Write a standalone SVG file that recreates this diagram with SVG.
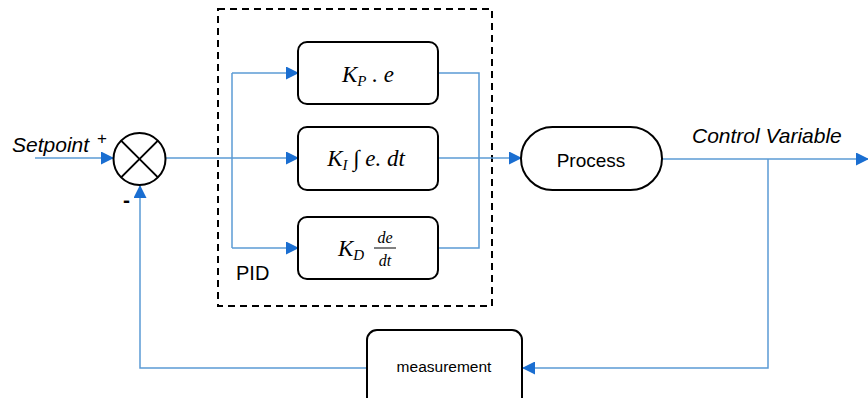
<svg xmlns="http://www.w3.org/2000/svg" width="868" height="398" viewBox="0 0 868 398">
<style>
.ln{fill:none;stroke:#5B9BD5;stroke-width:1.5}
.box{fill:#fff;stroke:#000;stroke-width:2}
.sans{font-family:"Liberation Sans",Arial,sans-serif;fill:#000}
.math{font-family:"Liberation Serif","DejaVu Serif",serif;font-style:italic;fill:#000}
</style>
<defs>
<marker id="ah" markerUnits="userSpaceOnUse" markerWidth="13" markerHeight="13" viewBox="0 0 13 13" refX="12" refY="6.5" orient="auto">
<path d="M0,0 L13,6.5 L0,13 Z" fill="#1A6ED1"/>
</marker>
</defs>
<rect x="0" y="0" width="868" height="398" fill="#fff"/>
<g id="pid-frame">
<rect x="218" y="9" width="274" height="297" fill="none" stroke="#000" stroke-width="2" stroke-dasharray="7,5"/>
<text class="sans" x="236" y="280" font-size="20">PID</text>
</g>
<g id="connectors">
<line class="ln" x1="35" y1="158" x2="113" y2="158" marker-end="url(#ah)"/>
<polyline class="ln" points="367,368 140,368 140,186" marker-end="url(#ah)"/>
<line class="ln" x1="166" y1="158" x2="298" y2="158" marker-end="url(#ah)"/>
<line class="ln" x1="232" y1="73" x2="232" y2="248"/>
<line class="ln" x1="232" y1="73" x2="298" y2="73" marker-end="url(#ah)"/>
<line class="ln" x1="232" y1="248" x2="298" y2="248" marker-end="url(#ah)"/>
<polyline class="ln" points="438,73 479,73 479,248 438,248"/>
<line class="ln" x1="438" y1="158" x2="521" y2="158" marker-end="url(#ah)"/>
<line class="ln" x1="662" y1="159" x2="868" y2="159" marker-end="url(#ah)"/>
<polyline class="ln" points="768,159 768,368 523,368" marker-end="url(#ah)"/>
</g>
<g id="sum">
<circle cx="139.5" cy="159" r="26" fill="#fff" stroke="#000" stroke-width="2"/>
<line x1="121.1" y1="140.6" x2="157.9" y2="177.4" stroke="#000" stroke-width="2"/>
<line x1="157.9" y1="140.6" x2="121.1" y2="177.4" stroke="#000" stroke-width="2"/>
<text class="sans" x="97" y="144" font-size="17">+</text>
<text class="sans" x="123" y="207" font-size="21" font-weight="bold">-</text>
</g>
<g id="setpoint">
<text class="sans" x="12" y="152" font-size="21" font-style="italic">Setpoint</text>
</g>
<g id="kp">
<rect class="box" x="298" y="42" width="140" height="62" rx="9"/>
<text class="math" x="368" y="82" font-size="23" text-anchor="middle">K<tspan font-size="15" dy="4">P</tspan><tspan dy="-4"> . e</tspan></text>
</g>
<g id="ki">
<rect class="box" x="298" y="127" width="140" height="63" rx="9"/>
<text class="math" x="366" y="166" font-size="23" text-anchor="middle">K<tspan font-size="15" dy="4">I</tspan><tspan dy="-4">  ∫ e. dt</tspan></text>
</g>
<g id="kd">
<rect class="box" x="298" y="217" width="140" height="62" rx="9"/>
<text class="math" x="338" y="256" font-size="23">K<tspan font-size="15" dy="4">D</tspan></text>
<text class="math" x="385" y="243" font-size="16" text-anchor="middle">de</text>
<line x1="374" y1="248" x2="396" y2="248" stroke="#000" stroke-width="1"/>
<text class="math" x="385" y="266" font-size="16" text-anchor="middle">dt</text>
</g>
<g id="process">
<rect class="box" x="521" y="127" width="141" height="63" rx="31.5"/>
<text class="sans" x="591" y="167" font-size="19" text-anchor="middle">Process</text>
</g>
<g id="cv">
<text class="sans" x="692" y="143" font-size="21" font-style="italic">Control Variable</text>
</g>
<g id="measurement">
<rect class="box" x="367" y="330" width="155" height="80" rx="10"/>
<text class="sans" x="444" y="372" font-size="15.5" text-anchor="middle">measurement</text>
</g>
</svg>
